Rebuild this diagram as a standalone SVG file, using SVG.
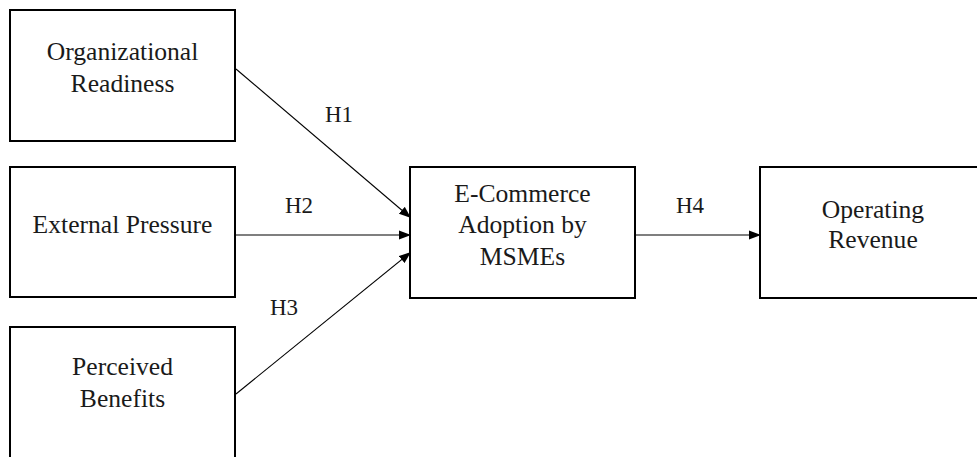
<svg xmlns="http://www.w3.org/2000/svg" width="977" height="457" viewBox="0 0 977 457">
  <style>
    .box { fill: #fff; stroke: #000; stroke-width: 2; }
    .t { font-family: "Liberation Serif", "Times New Roman", serif; font-size: 25.6px; fill: #1a1a1a; text-anchor: middle; }
    .h { font-family: "Liberation Serif", "Times New Roman", serif; font-size: 23px; fill: #1a1a1a; text-anchor: middle; }
    .edge { stroke: #000; stroke-width: 1.1; fill: none; marker-end: url(#arrow); }
  </style>
  <defs>
    <marker id="arrow" markerUnits="userSpaceOnUse" markerWidth="12" markerHeight="10" refX="12" refY="5" orient="auto">
      <path d="M0,0.5 L12,5 L0,9.5 Z" fill="#000"/>
    </marker>
  </defs>
  <rect width="977" height="457" fill="#fff"/>

  <g id="connectors">
    <line class="edge" x1="236" y1="69" x2="411" y2="218"/>
    <line class="edge" x1="236" y1="235" x2="411" y2="235"/>
    <line class="edge" x1="236" y1="394" x2="411" y2="252"/>
    <line class="edge" x1="636" y1="235" x2="761" y2="235"/>
    <text class="h" x="339" y="122">H1</text>
    <text class="h" x="299" y="213">H2</text>
    <text class="h" x="284" y="315">H3</text>
    <text class="h" x="690" y="213">H4</text>
  </g>

  <g id="organizational-readiness">
    <rect class="box" x="10" y="10" width="225" height="131"/>
    <text class="t" x="122.5" y="60">Organizational</text>
    <text class="t" x="122.5" y="92">Readiness</text>
  </g>

  <g id="external-pressure">
    <rect class="box" x="10" y="167" width="225" height="130"/>
    <text class="t" x="122.5" y="233">External Pressure</text>
  </g>

  <g id="perceived-benefits">
    <rect class="box" x="10" y="327" width="225" height="140"/>
    <text class="t" x="122.5" y="375">Perceived</text>
    <text class="t" x="122.5" y="407">Benefits</text>
  </g>

  <g id="ecommerce-adoption">
    <rect class="box" x="410" y="167" width="225" height="131"/>
    <text class="t" x="522.5" y="202">E-Commerce</text>
    <text class="t" x="522.5" y="233">Adoption by</text>
    <text class="t" x="522.5" y="265">MSMEs</text>
  </g>

  <g id="operating-revenue">
    <rect class="box" x="760" y="167" width="228" height="131"/>
    <text class="t" x="873" y="218">Operating</text>
    <text class="t" x="873" y="248">Revenue</text>
  </g>
</svg>
